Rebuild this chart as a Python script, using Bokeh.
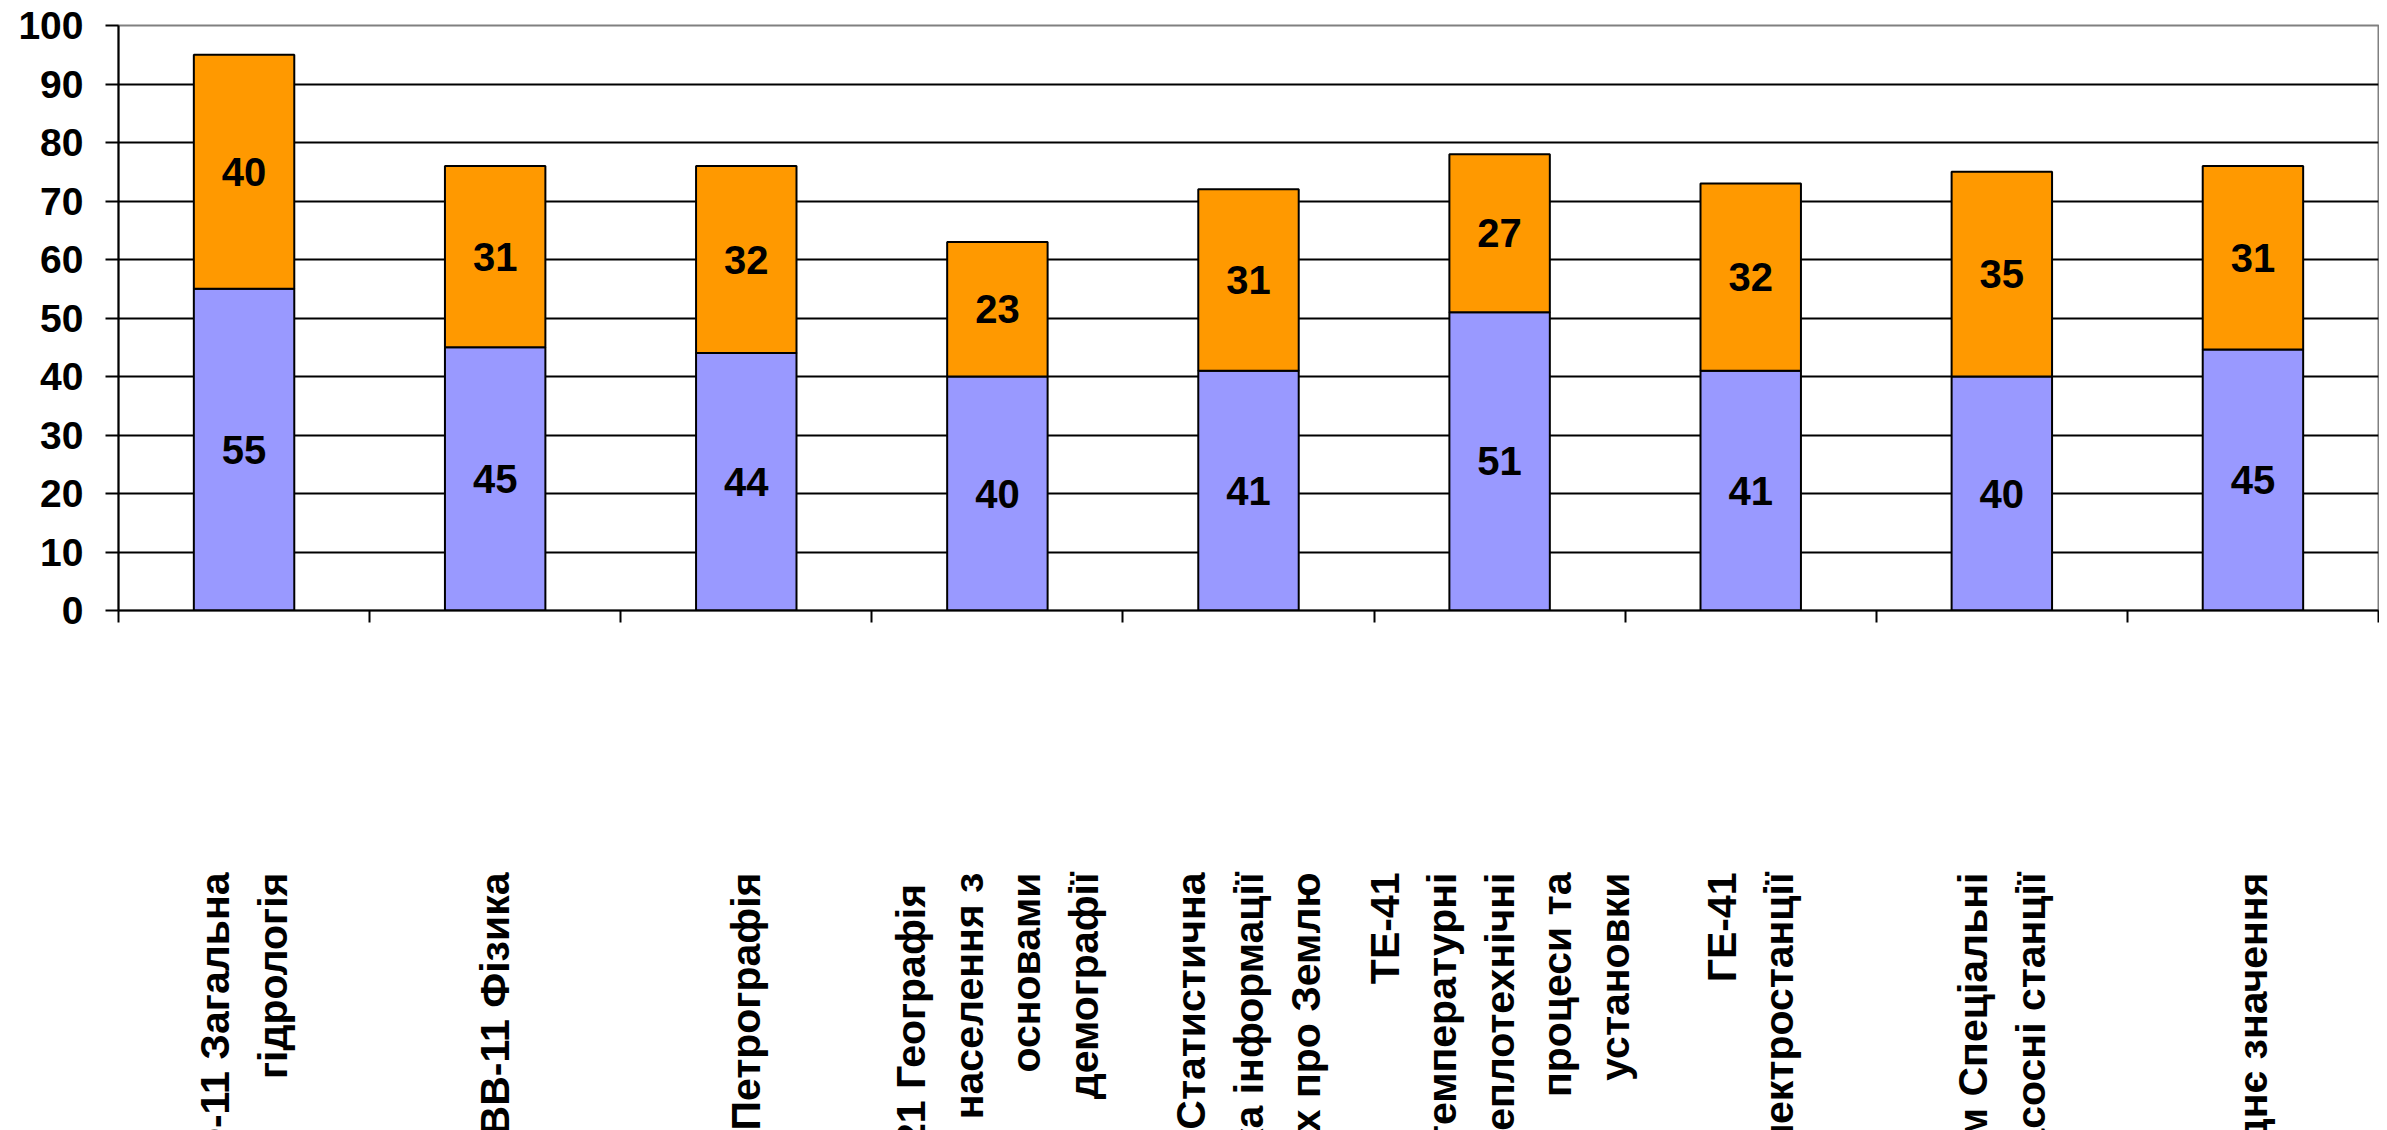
from math import pi
from bokeh.plotting import figure
from bokeh.models import (FactorRange, Range1d, LinearAxis, CategoricalAxis, FixedTicker,
                          ColumnDataSource, Legend, LegendItem)
from bokeh.core.properties import value
from bokeh.embed import file_html
from bokeh.resources import INLINE

# ---- data ----
categories = [
    "ГФ-11 Загальна\nгідрологія",
    "ГБВВ-11 Фізика",
    "Г-21 Петрографія",
    "ГФ-21  Географія\nнаселення з\nосновами\nдемографії",
    "Г-31 Статистична\nобробка інформації\nв науках про Землю",
    "ТЕ-41\nВисокотемпературні\nтеплотехнічні\nпроцеси та\nустановки",
    "ГЕ-41\nГідроелектростанції",
    "ГЕ-51м Спеціальні\nнасосні станції",
    "Середнє значення",
]
current_control = [55, 45, 44, 40, 41, 51, 41, 40, 44.6]
final_control = [40, 31, 32, 23, 31, 27, 32, 35, 31.4]
series_names = ["Поточний контроль", "Підсумковий контроль"]
y_ticks = [0, 10, 20, 30, 40, 50, 60, 70, 80, 90, 100]

FONT = "Liberation Sans"
BLUE = "#9999FF"
ORANGE = "#FF9900"

src = ColumnDataSource(dict(
    cat=categories,
    current=current_control,
    final=final_control,
    cur_mid=[c / 2 for c in current_control],
    fin_mid=[c + f / 2 for c, f in zip(current_control, final_control)],
    cur_lbl=[f"{c:.0f}" for c in current_control],
    fin_lbl=[f"{f:.0f}" for f in final_control],
))

p = figure(x_range=FactorRange(factors=categories), y_range=Range1d(0, 100),
           frame_width=2260, frame_height=585,
           output_backend="svg", toolbar_location=None,
           x_axis_location=None,
           min_border_left=118, min_border_right=1, min_border_top=25, min_border_bottom=300)

p.outline_line_color = "#808080"
p.outline_line_width = 2
p.background_fill_color = "white"
p.border_fill_color = "white"

# y axis
yax = p.yaxis[0]
yax.ticker = FixedTicker(ticks=y_ticks)
yax.major_tick_in = 0
yax.major_tick_out = 13
yax.minor_tick_out = 0
yax.minor_tick_in = 0
yax.major_tick_line_width = 2
yax.axis_line_width = 2
yax.axis_line_color = "black"
yax.major_tick_line_color = "black"
yax.major_label_standoff = 22
yax.major_label_text_font = FONT
yax.major_label_text_font_style = "bold"
yax.major_label_text_font_size = "39px"
yax.major_label_text_color = "black"

p.ygrid.ticker = FixedTicker(ticks=y_ticks)
p.ygrid.grid_line_color = "black"
p.ygrid.grid_line_width = 2
p.xgrid.visible = False

# x axis: tick marks at category boundaries (synthetic factor coordinates)
bounds = list(range(len(categories) + 1))
tick_axis = LinearAxis(ticker=FixedTicker(ticks=bounds),
                       major_tick_in=0, major_tick_out=12, minor_tick_in=0, minor_tick_out=0,
                       major_tick_line_width=2, axis_line_width=2,
                       axis_line_color="black", major_tick_line_color="black",
                       major_label_overrides={i: "" for i in bounds},
                       major_label_text_font_size="1px", major_label_standoff=0)
p.add_layout(tick_axis, "below")

# bars
rs = p.vbar_stack(["current", "final"], x="cat", width=0.4, source=src,
                  color=[BLUE, ORANGE], line_color="black", line_width=2)

# legend panel sits under the tick marks; the legend is shifted down below the labels
legend = Legend(items=[LegendItem(label=series_names[0], renderers=[rs[0]]),
                       LegendItem(label=series_names[1], renderers=[rs[1]])],
                orientation="horizontal", location=(672, -227),
                border_line_color=None, background_fill_alpha=0,
                label_text_font=FONT, label_text_font_style="bold",
                label_text_font_size="38px", label_text_color="black",
                glyph_width=15, glyph_height=24, label_standoff=5, spacing=47,
                padding=0, margin=0)
p.add_layout(legend, "below")

# category labels, pulled back up to just under the tick marks
cat_axis = CategoricalAxis(major_tick_in=0, major_tick_out=0, axis_line_color=None,
                           major_label_orientation=pi / 2,
                           major_label_text_font=FONT,
                           major_label_text_font_style="bold",
                           major_label_text_font_size="41px",
                           major_label_text_line_height=1.25,
                           major_label_text_color="black",
                           major_label_standoff=-250)
p.add_layout(cat_axis, "below")

# data labels
for ycol, tcol in (("cur_mid", "cur_lbl"), ("fin_mid", "fin_lbl")):
    p.text(x="cat", y=ycol, text=tcol, source=src,
           text_font=value(FONT), text_font_style="bold", text_font_size="40px",
           text_align="center", text_baseline="middle", text_color="black")

open("out.html", "w").write(file_html(p, INLINE))
